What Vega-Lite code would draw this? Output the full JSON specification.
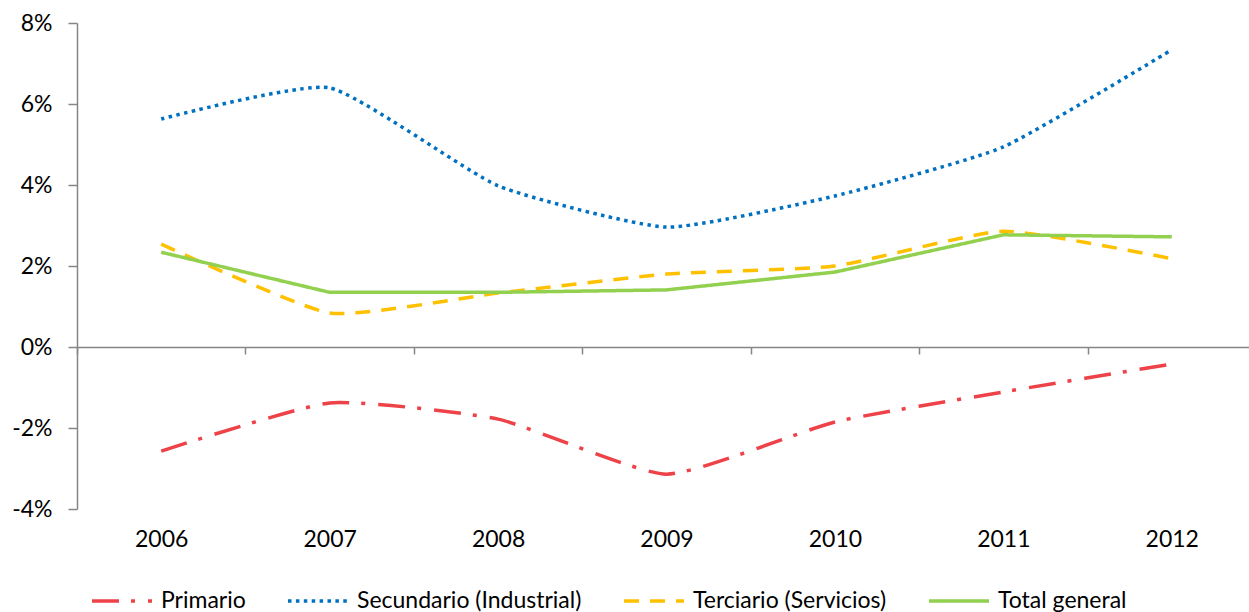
{
  "$schema": "https://vega.github.io/schema/vega-lite/v6.json",
  "width": 1172,
  "height": 486,
  "autosize": {"type": "none"},
  "padding": {"left": 77, "top": 23, "right": 0, "bottom": 103},
  "background": "white",
  "config": {"view": {"stroke": null}, "font": "Lato"},
  "data": {
    "values": [
      {"year": "2006", "series": "Primario", "value": -0.0257},
      {"year": "2007", "series": "Primario", "value": -0.0138},
      {"year": "2008", "series": "Primario", "value": -0.0178},
      {"year": "2009", "series": "Primario", "value": -0.0314},
      {"year": "2010", "series": "Primario", "value": -0.0185},
      {"year": "2011", "series": "Primario", "value": -0.0111},
      {"year": "2012", "series": "Primario", "value": -0.0042},
      {"year": "2006", "series": "Secundario (Industrial)", "value": 0.0563},
      {"year": "2007", "series": "Secundario (Industrial)", "value": 0.0640},
      {"year": "2008", "series": "Secundario (Industrial)", "value": 0.0398},
      {"year": "2009", "series": "Secundario (Industrial)", "value": 0.0296},
      {"year": "2010", "series": "Secundario (Industrial)", "value": 0.0373},
      {"year": "2011", "series": "Secundario (Industrial)", "value": 0.0494},
      {"year": "2012", "series": "Secundario (Industrial)", "value": 0.0734},
      {"year": "2006", "series": "Terciario (Servicios)", "value": 0.0254},
      {"year": "2007", "series": "Terciario (Servicios)", "value": 0.0084},
      {"year": "2008", "series": "Terciario (Servicios)", "value": 0.0133},
      {"year": "2009", "series": "Terciario (Servicios)", "value": 0.0180},
      {"year": "2010", "series": "Terciario (Servicios)", "value": 0.0200},
      {"year": "2011", "series": "Terciario (Servicios)", "value": 0.0286},
      {"year": "2012", "series": "Terciario (Servicios)", "value": 0.0218},
      {"year": "2006", "series": "Total general", "value": 0.0234},
      {"year": "2007", "series": "Total general", "value": 0.0135},
      {"year": "2008", "series": "Total general", "value": 0.0135},
      {"year": "2009", "series": "Total general", "value": 0.0141},
      {"year": "2010", "series": "Total general", "value": 0.0185},
      {"year": "2011", "series": "Total general", "value": 0.0277},
      {"year": "2012", "series": "Total general", "value": 0.0272}
    ]
  },
  "encoding": {
    "x": {
      "field": "year",
      "type": "ordinal",
      "scale": {"type": "band", "range": [0, 1179], "paddingInner": 0, "paddingOuter": 0},
      "axis": {
        "title": null,
        "offset": -162,
        "tickBand": "extent",
        "tickSize": 7,
        "tickColor": "#868686",
        "tickWidth": 1.5,
        "domainColor": "#868686",
        "domainWidth": 1.5,
        "labelPadding": 174,
        "labelFontSize": 23,
        "labelColor": "#000000",
        "labelAngle": 0
      }
    },
    "y": {
      "field": "value",
      "type": "quantitative",
      "scale": {"domain": [-0.04, 0.08], "nice": false, "zero": false},
      "axis": {
        "title": null,
        "values": [-0.04, -0.02, 0, 0.02, 0.04, 0.06, 0.08],
        "format": ".0%",
        "labelExpr": "replace(datum.label, '\u2212', '-')",
        "grid": false,
        "tickSize": 9,
        "tickColor": "#868686",
        "tickWidth": 1.5,
        "domainColor": "#868686",
        "domainWidth": 1.5,
        "labelPadding": 16,
        "labelFontSize": 23,
        "labelColor": "#000000"
      }
    },
    "color": {
      "field": "series",
      "type": "nominal",
      "scale": {
        "domain": ["Primario", "Secundario (Industrial)", "Terciario (Servicios)", "Total general"],
        "range": ["#EE4249", "#0070C0", "#FFC000", "#92D050"]
      },
      "legend": {
        "orient": "bottom",
        "direction": "horizontal",
        "title": null,
        "symbolType": "stroke",
        "symbolSize": 3600,
        "symbolStrokeWidth": 3.5,
        "labelFontSize": 23,
        "labelColor": "#000000",
        "labelLimit": 400,
        "labelOffset": 7,
        "columnPadding": 35,
        "padding": 13,
        "offset": 5
      }
    },
    "strokeDash": {
      "field": "series",
      "type": "nominal",
      "scale": {
        "domain": ["Primario", "Secundario (Industrial)", "Terciario (Servicios)", "Total general"],
        "range": [[27, 12, 4, 13], [3.5, 4.4], [15, 11], [1, 0]]
      },
      "legend": {
        "orient": "bottom",
        "direction": "horizontal",
        "title": null,
        "symbolType": "stroke",
        "symbolSize": 3600,
        "symbolStrokeWidth": 3.5,
        "labelFontSize": 23,
        "labelColor": "#000000",
        "labelLimit": 400,
        "labelOffset": 7,
        "columnPadding": 35,
        "padding": 13,
        "offset": 5
      }
    }
  },
  "layer": [
    {
      "transform": [{"filter": "datum.series !== 'Total general'"}],
      "mark": {"type": "line", "interpolate": "cardinal", "tension": 0.5, "strokeWidth": 3.5}
    },
    {
      "transform": [{"filter": "datum.series === 'Total general'"}],
      "mark": {"type": "line", "strokeWidth": 3.5}
    }
  ]
}
